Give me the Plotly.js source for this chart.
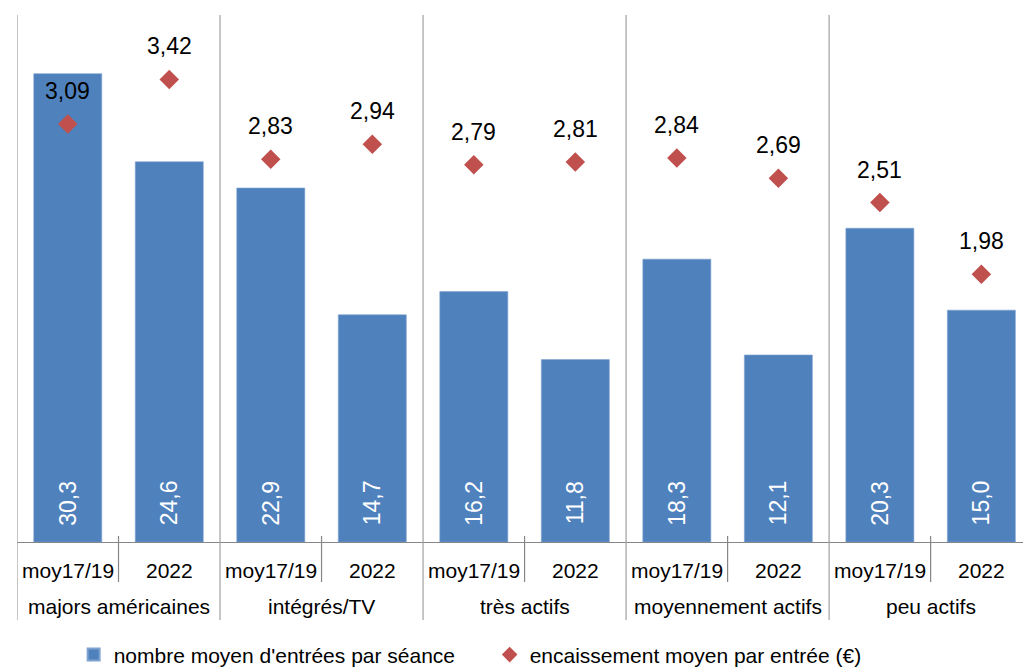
<!DOCTYPE html>
<html>
<head>
<meta charset="utf-8">
<script src="https://cdn.plot.ly/plotly-3.0.1.min.js"></script>
<style>html,body{margin:0;padding:0;background:#fff;}#chart{width:1023px;height:669px;}</style>
</head>
<body>
<div id="chart"></div>
<script>
const groups = ["majors américaines", "intégrés/TV", "très actifs", "moyennement actifs", "peu actifs"];
const periods = ["moy17/19", "2022"];
const entrees = [30.3, 24.6, 22.9, 14.7, 16.2, 11.8, 18.3, 12.1, 20.3, 15.0];
const encaissement = [3.09, 3.42, 2.83, 2.94, 2.79, 2.81, 2.84, 2.69, 2.51, 1.98];
const seriesNames = ["nombre moyen d'entrées par séance", "encaissement moyen par entrée (€)"];

const FONT = "Liberation Sans, Arial, sans-serif";
const xs = entrees.map((_, i) => i);
const fmt = (v, d) => v.toFixed(d).replace('.', ',');

const traces = [
  {
    type: 'bar', x: xs, y: entrees, name: seriesNames[0],
    width: 0.67,
    marker: {color: '#4F81BD', line: {color: '#7FA2D0', width: 0.6}},
    hoverinfo: 'skip'
  },
  {
    type: 'scatter', mode: 'markers', x: xs, y: encaissement, yaxis: 'y2', name: seriesNames[1],
    marker: {symbol: 'diamond', size: 15, color: '#C0504D'},
    hoverinfo: 'skip'
  }
];

const annotations = [];
// bar values (white, rotated)
entrees.forEach((v, i) => annotations.push({
  x: i, y: 0, xref: 'x', yref: 'y', text: fmt(v, 1), showarrow: false,
  textangle: -90, yanchor: 'middle', xanchor: 'center', yshift: 39,
  font: {family: FONT, size: 23, color: '#FFFFFF'}
}));
// diamond values
encaissement.forEach((v, i) => annotations.push({
  x: i, y: v, xref: 'x', yref: 'y2', text: fmt(v, 2), showarrow: false,
  yanchor: 'middle', xanchor: 'center', yshift: 33,
  font: {family: FONT, size: 23, color: '#000000'}
}));
// sub-category labels
xs.forEach(i => annotations.push({
  x: i, y: 0, xref: 'x', yref: 'paper', text: periods[i % 2], showarrow: false,
  yanchor: 'middle', xanchor: 'center', yshift: -28,
  font: {family: FONT, size: 21, color: '#000000'}
}));
// group labels
groups.forEach((g, k) => annotations.push({
  x: 2 * k + 0.5, y: 0, xref: 'x', yref: 'paper', text: g, showarrow: false,
  yanchor: 'middle', xanchor: 'center', yshift: -64,
  font: {family: FONT, size: 21, color: '#000000'}
}));

const shapes = [];
groups.forEach((g, k) => shapes.push({
  type: 'line', xref: 'x', yref: 'paper', x0: 2 * k - 0.5, x1: 2 * k - 0.5,
  y0: 0.9741, y1: -0.1442, line: {color: '#A0A0A0', width: 1.2}
}));
groups.forEach((g, k) => shapes.push({
  type: 'line', xref: 'x', yref: 'paper', x0: 2 * k + 0.5, x1: 2 * k + 0.5,
  y0: 0.0111, y1: -0.0739, line: {color: '#868686', width: 1.2}
}));

const layout = {
  width: 1023, height: 669,
  margin: {l: 17, r: 0, t: 1, b: 127, pad: 0},
  paper_bgcolor: '#FFFFFF', plot_bgcolor: '#FFFFFF',
  font: {family: FONT, size: 21, color: '#000000'},
  showlegend: true,
  bargap: 0.33,
  xaxis: {
    range: [-0.5, 9.41], showgrid: false, zeroline: false,
    showline: true, linecolor: '#868686', linewidth: 1.2,
    showticklabels: false, ticks: '', fixedrange: true
  },
  yaxis: {range: [0, 35], visible: false, showgrid: false, zeroline: false, fixedrange: true},
  yaxis2: {range: [0, 4], overlaying: 'y', side: 'right', visible: false, showgrid: false, zeroline: false, fixedrange: true},
  legend: {
    orientation: 'h', xref: 'container', yref: 'container',
    x: 0.072, xanchor: 'left', y: 0.021, yanchor: 'middle',
    font: {family: FONT, size: 21, color: '#000000'},
    itemwidth: 30, entrywidth: 371, entrywidthmode: 'pixels',
    itemsizing: 'constant', bgcolor: 'rgba(0,0,0,0)'
  },
  annotations: annotations,
  shapes: shapes
};

Plotly.newPlot('chart', traces, layout, {displayModeBar: false, staticPlot: true});
</script>
</body>
</html>
